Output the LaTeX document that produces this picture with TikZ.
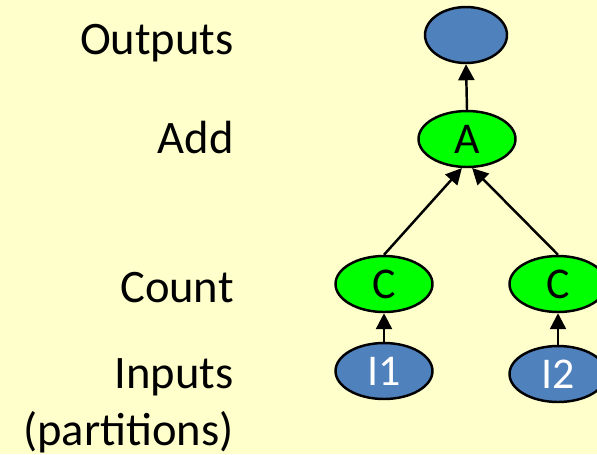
\documentclass[tikz,border=0pt]{standalone}
\usepackage{fontspec}
\setmainfont{Carlito}
\usetikzlibrary{shapes.geometric, positioning, arrows.meta}
\definecolor{PaperYellow}{HTML}{FFFFCC}
\definecolor{DataBlue}{HTML}{4F81BD}
\definecolor{OpGreen}{HTML}{00FF00}

\begin{document}
\begin{tikzpicture}[x=0.02cm, y=-0.02cm,
    blob/.style={draw, ellipse, line width=1.4pt, inner sep=0pt, minimum width=1.94cm, minimum height=1.12cm, font=\fontsize{25}{25}\selectfont},
    datablob/.style={blob, fill=DataBlue, text=white},
    opblob/.style={blob, fill=OpGreen},
    stage/.style={anchor=base east, align=right, inner sep=0pt, font=\fontsize{26.5}{32.5}\selectfont},
    flow/.style={-{Triangle[length=0.32cm, width=0.32cm]}, line width=1.4pt}]
    % Background
    \fill[PaperYellow] (0,0) rectangle (597,454);
    \useasboundingbox (0,0) rectangle (597,454);
    \clip (0,0) rectangle (597,454);

    % Stage labels
    \node[stage] (outlbl) at (234,54) {Outputs};
    \node[stage] (addlbl) at (234,153) {Add};
    \node[stage] (cntlbl) at (234,302) {Count};
    \node[stage, anchor=north east] (inlbl) at (234,358) {Inputs\\(partitions)};

    % Nodes
    \node[datablob, minimum width=1.64cm] (out) at (466,35) {};
    \node[opblob] (a) at (467,139) {A};
    \node[opblob] (cl) at (384,284) {C};
    \node[opblob] (cr) at (558,284) {C};
    \node[datablob] (i1) at (384,371) {I1};
    \node[datablob] (i2) at (558,374) {I2};

    % Edges
    \draw[flow] (a.north) -- (out.south);
    \draw[flow] (cl.north) -- (a.260);
    \draw[flow] (cr.north) -- (a.280);
    \draw[flow] (i1.north) -- (cl.south);
    \draw[flow] (i2.north) -- (cr.south);
\end{tikzpicture}
\end{document}
